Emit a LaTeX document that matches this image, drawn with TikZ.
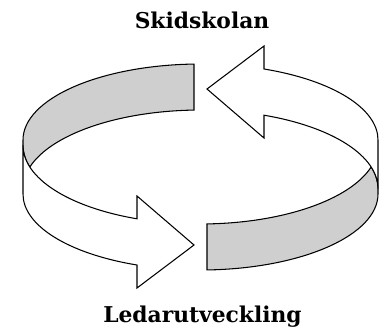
\documentclass[tikz,border=0pt]{standalone}
\usepackage{fontspec}
\newfontfamily\cyclefont{DejaVu Serif}
\usepackage{tikz}
\usetikzlibrary{positioning}

\begin{document}
\begin{tikzpicture}[
    x=0.03cm, y=-0.03cm,
    band/.style={draw, line width=0.9pt, line join=miter},
    innerface/.style={band, fill=black!19},
    outerface/.style={band, fill=white},
    caption/.style={font=\cyclefont\bfseries\fontsize{18.6}{20}\selectfont, inner sep=0pt, anchor=base}
  ]
    \useasboundingbox (0,0) rectangle (387,327);

    % Ribbon halves (second one turned half a round)
    \foreach \turn in {0,180} {
      \begin{scope}[rotate around={\turn:(200.5,167)}]
        % back face, grey
        \draw[innerface] (200.5,140) ++(267.9:177.5 and 76)
          arc[start angle=267.9, end angle=180, x radius=177.5, y radius=76]
          -- (23,145.4)
          arc[start angle=180, end angle=164.04, x radius=177.5, y radius=78.6]
          arc[start angle=195.96, end angle=267.9, x radius=177.5, y radius=78.6]
          -- cycle;
        % front face with arrow head
        \draw[outerface] (23,145.4)
          arc[start angle=180, end angle=110.96, x radius=177.5, y radius=78.6]
          -- (137,196) -- (194,245) -- (137,288) -- (137,265)
          arc[start angle=110.96, end angle=180, x radius=177.5, y radius=76]
          -- cycle;
      \end{scope}
    }

    % Labels
    \node[caption] (skola) at (202,28.3) {Skidskolan};
    \node[caption] (ledare) at (202.5,322) {Ledarutveckling};
\end{tikzpicture}
\end{document}
